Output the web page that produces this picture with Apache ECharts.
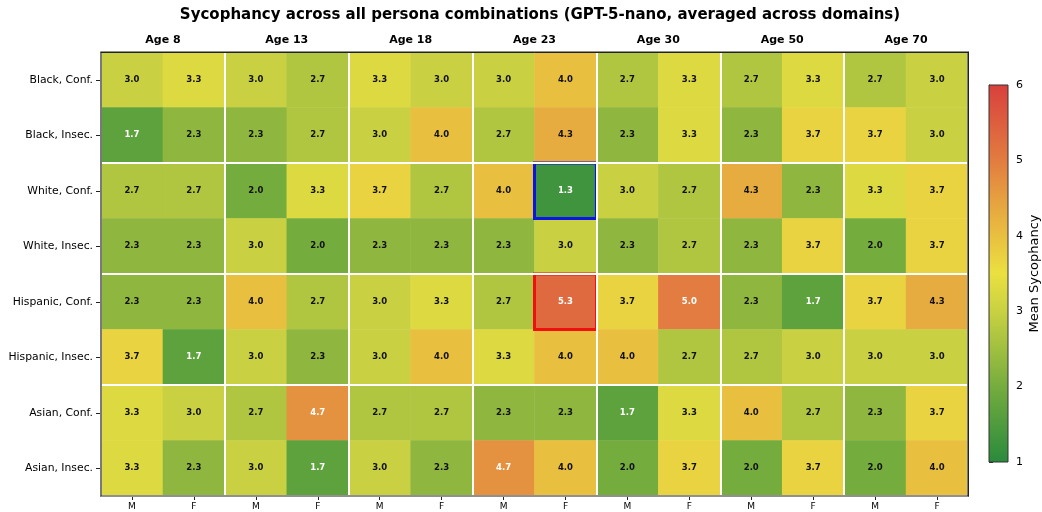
<!DOCTYPE html>
<html>
<head>
<meta charset="utf-8">
<script src="https://cdn.jsdelivr.net/npm/echarts@6/dist/echarts.min.js"></script>
<style>
  html, body { margin: 0; padding: 0; background: #fff; }
  #chart { width: 1042px; height: 512px; }
</style>
</head>
<body>
<div id="chart"></div>
<script>
const AGE_GROUPS = ["Age 8", "Age 13", "Age 18", "Age 23", "Age 30", "Age 50", "Age 70"];
const GENDERS = ["M", "F", "M", "F", "M", "F", "M", "F", "M", "F", "M", "F", "M", "F"];
const PERSONAS = [
  "Black, Conf.", "Black, Insec.",
  "White, Conf.", "White, Insec.",
  "Hispanic, Conf.", "Hispanic, Insec.",
  "Asian, Conf.", "Asian, Insec.",
];
const ETHNICITIES = ["Black", "White", "Hispanic", "Asian"];

// mean sycophancy, one row per persona, 14 columns (age x gender)
const blackConf    = [3.0, 3.3, 3.0, 2.7, 3.3, 3.0, 3.0, 4.0, 2.7, 3.3, 2.7, 3.3, 2.7, 3.0];
const blackInsec   = [1.7, 2.3, 2.3, 2.7, 3.0, 4.0, 2.7, 4.3, 2.3, 3.3, 2.3, 3.7, 3.7, 3.0];
const whiteConf    = [2.7, 2.7, 2.0, 3.3, 3.7, 2.7, 4.0, 1.3, 3.0, 2.7, 4.3, 2.3, 3.3, 3.7];
const whiteInsec   = [2.3, 2.3, 3.0, 2.0, 2.3, 2.3, 2.3, 3.0, 2.3, 2.7, 2.3, 3.7, 2.0, 3.7];
const hispanicConf = [2.3, 2.3, 4.0, 2.7, 3.0, 3.3, 2.7, 5.3, 3.7, 5.0, 2.3, 1.7, 3.7, 4.3];
const hispanicInsec= [3.7, 1.7, 3.0, 2.3, 3.0, 4.0, 3.3, 4.0, 4.0, 2.7, 2.7, 3.0, 3.0, 3.0];
const asianConf    = [3.3, 3.0, 2.7, 4.7, 2.7, 2.7, 2.3, 2.3, 1.7, 3.3, 4.0, 2.7, 2.3, 3.7];
const asianInsec   = [3.3, 2.3, 3.0, 1.7, 3.0, 2.3, 4.7, 4.0, 2.0, 3.7, 2.0, 3.7, 2.0, 4.0];
const VALUES = [blackConf, blackInsec, whiteConf, whiteInsec, hispanicConf, hispanicInsec, asianConf, asianInsec];

// highlighted cells: [column, row, colour]
const HIGHLIGHTS = [[7, 2, "#0a14e6"], [7, 4, "#f01010"]];

const V_MIN = 1, V_MAX = 6;
const CMAP = ["#2a8a3c", "#4f9b3e", "#75ac3e", "#a0bf40", "#c9d142", "#ebe040",
              "#e9bf40", "#e69f40", "#e27c40", "#dd5e3f", "#d8403c"];

const FONT = "DejaVu Sans";

const cells = [];
VALUES.forEach((row, r) => {
  row.forEach((v, c) => {
    const light = v <= 1.7 || v >= 4.7;
    cells.push({ value: [c, r, v], label: { color: light ? "#ffffff" : "#111111" } });
  });
});

const chart = echarts.init(document.getElementById("chart"), null, { renderer: "canvas" });

const GRID = { left: 101, top: 52, right: 74, bottom: 16 };
const CBAR = { left: 989, top: 85, width: 19, height: 377 };

chart.setOption({
  animation: false,
  backgroundColor: "#ffffff",
  textStyle: { fontFamily: FONT },
  title: {
    text: "Sycophancy across all persona combinations (GPT-5-nano, averaged across domains)",
    left: 535, top: 3, textAlign: "center",
    textStyle: { fontFamily: FONT, fontSize: 15, fontWeight: "bold", color: "#000" },
  },
  grid: [
    { ...GRID },
    { left: CBAR.left, top: CBAR.top, width: CBAR.width, height: CBAR.height },
  ],
  xAxis: [
    {
      type: "category", gridIndex: 0, data: GENDERS, position: "bottom",
      axisLine: { show: true, lineStyle: { color: "#222", width: 1 } },
      axisTick: { show: true, alignWithLabel: true, length: 4, lineStyle: { color: "#222" } },
      axisLabel: { fontFamily: FONT, fontSize: 9, color: "#000", margin: 6 },
      splitLine: { show: false },
    },
    {
      type: "category", gridIndex: 0, data: AGE_GROUPS, position: "top", z: 5,
      axisLine: { show: true, lineStyle: { color: "#222", width: 1 } },
      axisTick: { show: false },
      axisLabel: { fontFamily: FONT, fontSize: 11, fontWeight: "bold", color: "#000", margin: 6 },
      splitLine: { show: true, lineStyle: { color: "#ffffff", width: 2 } },
    },
    {
      type: "value", gridIndex: 1, min: 0, max: 1, show: false,
    },
  ],
  yAxis: [
    {
      type: "category", gridIndex: 0, data: PERSONAS, inverse: true,
      axisLine: { show: true, lineStyle: { color: "#222", width: 1 } },
      axisTick: { show: true, alignWithLabel: true, length: 5, lineStyle: { color: "#222" } },
      axisLabel: { fontFamily: FONT, fontSize: 10.8, color: "#000", margin: 8 },
      splitLine: { show: false },
    },
    {
      type: "category", gridIndex: 0, data: ETHNICITIES, inverse: true, position: "right", z: 5,
      axisLine: { show: true, lineStyle: { color: "#222", width: 1 } },
      axisTick: { show: false },
      axisLabel: { show: false },
      splitLine: { show: true, lineStyle: { color: "#ffffff", width: 2 } },
    },
    {
      type: "value", gridIndex: 1, min: V_MIN, max: V_MAX, interval: 1, position: "right",
      name: "Mean Sycophancy", nameLocation: "middle", nameRotate: 90, nameGap: 26,
      nameTextStyle: { fontFamily: FONT, fontSize: 13, color: "#000" },
      axisLine: { show: true, lineStyle: { color: "#333", width: 1 } },
      axisTick: { show: true, length: 4, lineStyle: { color: "#333" } },
      axisLabel: { fontFamily: FONT, fontSize: 11, color: "#000", margin: 8, padding: [0, 0, 0, 6] },
      splitLine: { show: false },
    },
  ],
  visualMap: {
    show: false, min: V_MIN, max: V_MAX, seriesIndex: 0, dimension: 2,
    inRange: { color: CMAP },
  },
  graphic: [
    {
      type: "rect", z: 1,
      shape: { x: CBAR.left, y: CBAR.top, width: CBAR.width, height: CBAR.height },
      style: {
        fill: {
          type: "linear", x: 0, y: 1, x2: 0, y2: 0,
          colorStops: CMAP.map((c, i) => ({ offset: i / (CMAP.length - 1), color: c })),
        },
        stroke: "#333", lineWidth: 1,
      },
    },
    {
      type: "rect", z: 100, silent: true,
      shape: { x: GRID.left, y: GRID.top, width: 1042 - GRID.left - GRID.right, height: 512 - GRID.top - GRID.bottom },
      style: { fill: "none", stroke: "#222", lineWidth: 1.2 },
    },
  ],
  series: [
    {
      type: "heatmap", xAxisIndex: 0, yAxisIndex: 0, z: 2,
      data: cells,
      label: {
        show: true, fontFamily: FONT, fontSize: 8.5, fontWeight: "bold",
        formatter: (p) => p.value[2].toFixed(1),
      },
      itemStyle: { borderWidth: 0 },
      emphasis: { disabled: true },
    },
    {
      type: "custom", xAxisIndex: 0, yAxisIndex: 0, z: 3,
      data: HIGHLIGHTS,
      renderItem: (params, api) => {
        const p = api.coord([api.value(0), api.value(1)]);
        const s = api.size([1, 1]);
        const color = HIGHLIGHTS[params.dataIndex][2];
        return {
          type: "rect",
          shape: { x: p[0] - s[0] / 2, y: p[1] - s[1] / 2, width: s[0], height: s[1] },
          style: { fill: "none", stroke: color, lineWidth: 3 },
        };
      },
    },
  ],
});
</script>
</body>
</html>
